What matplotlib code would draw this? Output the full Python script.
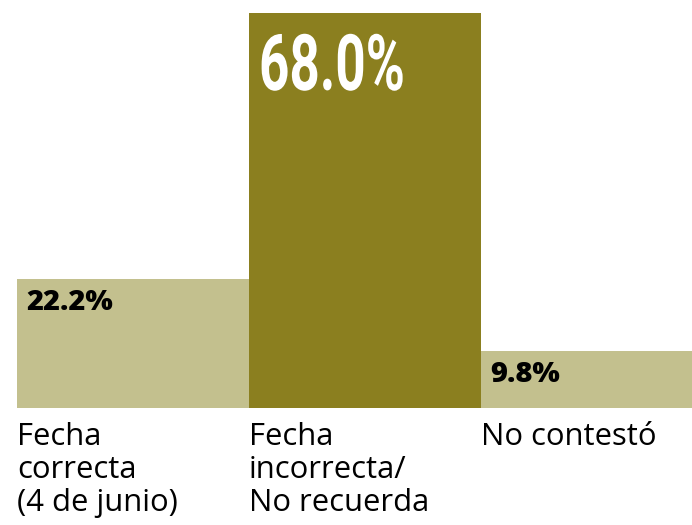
import matplotlib
matplotlib.use('Agg')
import matplotlib.pyplot as plt
from matplotlib.patheffects import AbstractPathEffect
from matplotlib.transforms import Affine2D

# data
categorias = ['Fecha\ncorrecta\n(4 de junio)', 'Fecha\nincorrecta/\nNo recuerda', 'No contestó']
valores = [22.2, 68.0, 9.8]
etiquetas = ['22.2%', '68.0%', '9.8%']

claro = '#C3C08E'
oscuro = '#8B7F1F'
colores = [claro, oscuro, claro]


class Estrecho(AbstractPathEffect):
    """squeeze text horizontally (no condensed font installed)"""
    def __init__(self, texto, sx):
        super().__init__()
        self.texto = texto
        self.sx = sx

    def draw_path(self, renderer, gc, tpath, affine, rgbFace=None):
        x0 = self.texto.get_window_extent(renderer).x0
        aff = affine + Affine2D().translate(-x0, 0).scale(self.sx, 1).translate(x0, 0)
        renderer.draw_path(gc, tpath, aff, rgbFace)


DPI = 72
fig = plt.figure(figsize=(692 / DPI, 525 / DPI), dpi=DPI)
# bars start at x=17, bottom y=408, tallest top y=13 (pixels)
ax = fig.add_axes([17 / 692, 117 / 525, 675 / 692, 395 / 525])
ax.bar(range(len(valores)), valores, width=1.0, align='edge', color=colores, linewidth=0)
ax.set_xlim(0, 675 / 232)
ax.set_ylim(0, max(valores))
ax.axis('off')

for i, (v, t) in enumerate(zip(valores, etiquetas)):
    if v == max(valores):
        a = ax.annotate(t, (i, v), xytext=(10, -77), textcoords='offset points',
                        ha='left', va='baseline', color='white', fontsize=78,
                        fontweight='bold', family=['Roboto', 'DejaVu Sans'])
        a.set_path_effects([Estrecho(a, 0.68)])
    else:
        ax.annotate(t, (i, v), xytext=(9, -31), textcoords='offset points',
                    ha='left', va='baseline', color='black', fontsize=29,
                    fontweight='heavy', family=['Open Sans', 'DejaVu Sans'])

for i, c in enumerate(categorias):
    ax.annotate(c, (i, 0), xytext=(0, -14), textcoords='offset points',
                ha='left', va='top', color='black', fontsize=31,
                family=['Open Sans', 'DejaVu Sans'], linespacing=1.12, annotation_clip=False)

fig.savefig('out.png', dpi=DPI)
